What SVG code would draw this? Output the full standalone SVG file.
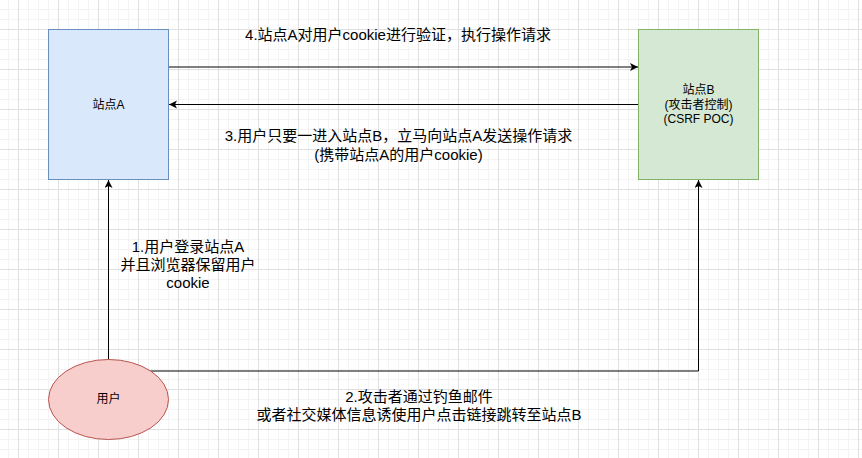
<svg xmlns="http://www.w3.org/2000/svg" width="862" height="458" viewBox="0 0 862 458">
  <defs>
    <pattern id="grid" x="18" y="29" width="40" height="40" patternUnits="userSpaceOnUse">
      <path d="M10.5,0 V40 M20.5,0 V40 M30.5,0 V40 M0,10.5 H40 M0,20.5 H40 M0,30.5 H40" stroke="#f3f3f3" stroke-width="1" fill="none"/>
      <path d="M0.5,0 V40 M0,0.5 H40" stroke="#e0e0e0" stroke-width="1" fill="none"/>
    </pattern>
    <marker id="arr" markerWidth="9" markerHeight="9" refX="8" refY="4" orient="auto" markerUnits="userSpaceOnUse">
      <path d="M0,0 L8,4 L0,8 L2,4 Z" fill="#000"/>
    </marker>
  </defs>
  <style>
    .node-lbl { font-family: "Liberation Sans", "Noto Sans CJK SC", sans-serif; font-size: 12px; fill: #000; text-anchor: middle; }
    .edge-lbl { font-family: "Liberation Sans", "Noto Sans CJK SC", sans-serif; font-size: 15px; fill: #000; text-anchor: middle; }
    .conn { fill: none; stroke: #000; stroke-width: 1; marker-end: url(#arr); }
  </style>
  <rect x="0" y="0" width="862" height="458" fill="#fff"/>
  <rect x="0" y="0" width="862" height="458" fill="url(#grid)"/>

  <g id="connectors">
    <path id="e1" class="conn" d="M108.5,359.5 V180"/>
    <path id="e2" class="conn" d="M150.6,371 H698.5 V180"/>
    <path id="e3" class="conn" d="M638.5,104.5 H169"/>
    <path id="e4" class="conn" d="M168.5,67 H638"/>
  </g>

  <g id="siteA">
    <rect x="48.5" y="29.5" width="120" height="150" fill="#dae8fc" stroke="#6c8ebf"/>
    <text class="node-lbl" x="108.5" y="108.5">站点A</text>
  </g>
  <g id="siteB">
    <rect x="638.5" y="29.5" width="120" height="150" fill="#d5e8d4" stroke="#82b366"/>
    <text class="node-lbl" x="698.5" y="94">站点B</text>
    <text class="node-lbl" x="698.5" y="108.5">(攻击者控制)</text>
    <text class="node-lbl" x="698.5" y="123">(CSRF POC)</text>
  </g>
  <g id="user">
    <ellipse cx="108.5" cy="399.5" rx="60" ry="40" fill="#f8cecc" stroke="#b85450"/>
    <text class="node-lbl" x="108.5" y="402.5">用户</text>
  </g>

  <g id="labels">
    <text class="edge-lbl" x="398" y="40">4.站点A对用户cookie进行验证，执行操作请求</text>
    <text class="edge-lbl" x="398.5" y="141">3.用户只要一进入站点B，立马向站点A发送操作请求</text>
    <text class="edge-lbl" x="398.5" y="160">(携带站点A的用户cookie)</text>
    <text class="edge-lbl" x="188" y="252">1.用户登录站点A</text>
    <text class="edge-lbl" x="188" y="270">并且浏览器保留用户</text>
    <text class="edge-lbl" x="188" y="288">cookie</text>
    <text class="edge-lbl" x="419" y="402">2.攻击者通过钓鱼邮件</text>
    <text class="edge-lbl" x="419" y="419.5">或者社交媒体信息诱使用户点击链接跳转至站点B</text>
  </g>
</svg>
